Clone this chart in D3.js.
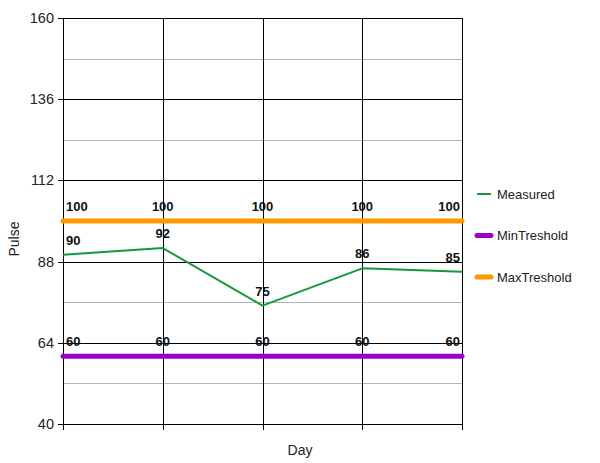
<!DOCTYPE html>
<html>
<head>
<meta charset="utf-8">
<script src="https://d3js.org/d3.v7.min.js"></script>
<style>
  body { margin: 0; background: #fff; }
  text { font-family: "Liberation Sans", Arial, sans-serif; }
</style>
</head>
<body>
<div id="chart"></div>
<script>
// chart data
const days = ["1", "2", "3", "4", "5"];
const measured = [90, 92, 75, 86, 85];
const minThreshold = [60, 60, 60, 60, 60];
const maxThreshold = [100, 100, 100, 100, 100];
const yTicks = [40, 64, 88, 112, 136, 160];
const yMinorTicks = [52, 76, 100, 124, 148];

const seriesList = [
    { name: "Measured", values: measured, color: "#16993a", width: 2 },
    { name: "MinTreshold", values: minThreshold, color: "#9900cc", width: 5 },
    { name: "MaxTreshold", values: maxThreshold, color: "#ff9900", width: 5 }
];

const width = 600, height = 463;
const margin = { top: 18, left: 63, right: 138, bottom: 39 };

const svg = d3.select("#chart")
    .append("svg")
    .attr("width", width)
    .attr("height", height);

const x = d3.scalePoint()
    .domain(days)
    .range([margin.left, width - margin.right]);

const y = d3.scaleLinear()
    .domain([40, 160])
    .range([height - margin.bottom, margin.top]);

// minor gridlines
svg.append("g")
    .selectAll("line")
    .data(yMinorTicks)
    .enter()
    .append("line")
    .attr("x1", margin.left)
    .attr("x2", width - margin.right)
    .attr("y1", d => Math.round(y(d)) + 0.5)
    .attr("y2", d => Math.round(y(d)) + 0.5)
    .style("stroke", "#b3b3b3");

// major horizontal gridlines
svg.append("g")
    .selectAll("line")
    .data(yTicks)
    .enter()
    .append("line")
    .attr("x1", margin.left - 5)
    .attr("x2", width - margin.right)
    .attr("y1", d => Math.round(y(d)) + 0.5)
    .attr("y2", d => Math.round(y(d)) + 0.5)
    .style("stroke", "#000");

// vertical category gridlines with tick marks below
svg.append("g")
    .selectAll("line")
    .data(days)
    .enter()
    .append("line")
    .attr("x1", d => Math.round(x(d)) + 0.5)
    .attr("x2", d => Math.round(x(d)) + 0.5)
    .attr("y1", margin.top)
    .attr("y2", height - margin.bottom + 6)
    .style("stroke", "#000");

// y tick labels
svg.append("g")
    .selectAll("text")
    .data(yTicks)
    .enter()
    .append("text")
    .attr("x", margin.left - 9)
    .attr("y", d => y(d) + 5)
    .attr("text-anchor", "end")
    .style("font-size", "14.5px")
    .style("fill", "#222")
    .text(d => d);

// axis titles
svg.append("text")
    .attr("transform", "translate(19,239) rotate(-90)")
    .attr("text-anchor", "middle")
    .style("font-size", "14px")
    .style("fill", "#222")
    .text("Pulse");

svg.append("text")
    .attr("x", width / 2)
    .attr("y", 455)
    .attr("text-anchor", "middle")
    .style("font-size", "14px")
    .style("fill", "#222")
    .text("Day");

// series lines
const line = d3.line()
    .x((d, i) => x(days[i]))
    .y(d => y(d));

const drawOrder = [seriesList[2], seriesList[1], seriesList[0]];
drawOrder.forEach(s => {
    svg.append("path")
        .datum(s.values)
        .attr("d", line)
        .style("fill", "none")
        .style("stroke", s.color)
        .style("stroke-width", s.width)
        .style("stroke-linecap", s.width > 2 ? "round" : "butt")
        .style("stroke-linejoin", "round");
});

// value labels
seriesList.forEach(s => {
    svg.append("g")
        .selectAll("text")
        .data(s.values)
        .enter()
        .append("text")
        .attr("x", (d, i) => x(days[i]) + (i === 0 ? 3 : i === days.length - 1 ? -2 : 0))
        .attr("y", d => y(d) - 10)
        .attr("text-anchor", (d, i) => i === 0 ? "start" : i === days.length - 1 ? "end" : "middle")
        .style("font-size", "13px")
        .style("font-weight", "bold")
        .style("fill", "#111")
        .text(d => d);
});

// legend
const legend = svg.append("g")
    .selectAll("g")
    .data(seriesList)
    .enter()
    .append("g")
    .attr("transform", (d, i) => `translate(477,${194 + i * 41.5})`);

legend.append("line")
    .attr("x1", 0)
    .attr("x2", 14)
    .style("stroke", d => d.color)
    .style("stroke-width", d => d.width > 2 ? 5 : 2)
    .style("stroke-linecap", d => d.width > 2 ? "round" : "butt");

legend.append("text")
    .attr("x", 20)
    .attr("y", 4.5)
    .style("font-size", "13px")
    .style("fill", "#222")
    .text(d => d.name);
</script>
</body>
</html>
